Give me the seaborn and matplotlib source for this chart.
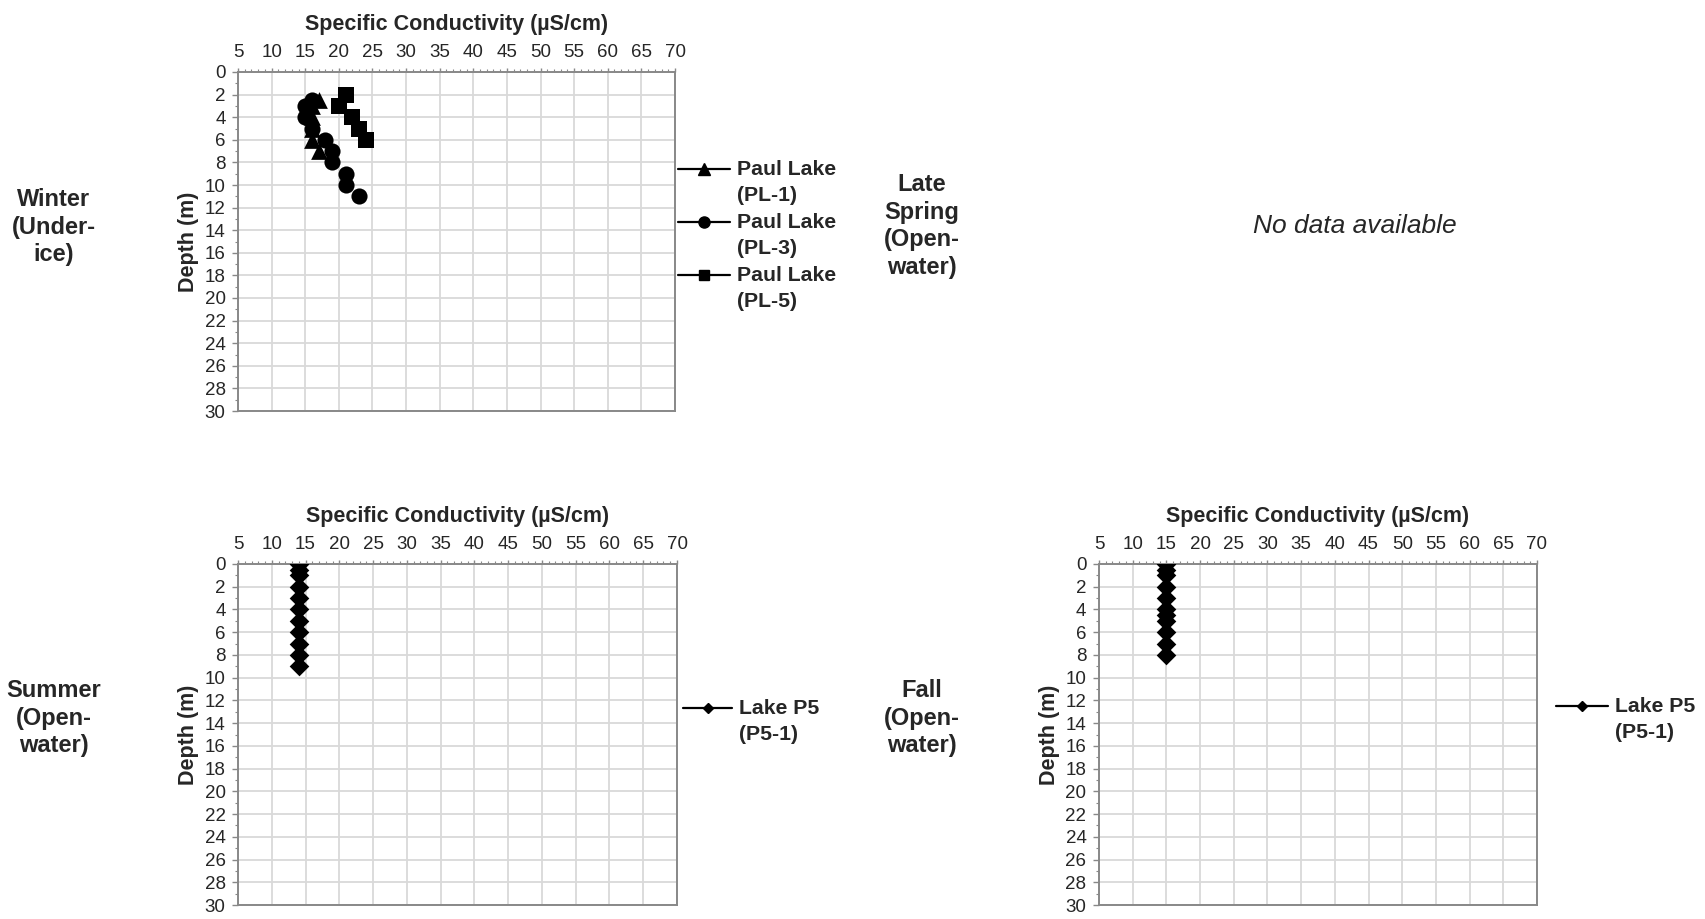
import matplotlib
matplotlib.use("Agg")
import matplotlib.pyplot as plt
from matplotlib.lines import Line2D
from matplotlib.ticker import MultipleLocator
import seaborn as sns
import pandas as pd

# ---------------- data ----------------
xlabel_text = "Specific Conductivity (µS/cm)"
ylabel_text = "Depth (m)"

pl1_cond = [17, 16, 16, 16, 16, 17]
pl1_depth = [2.5, 3, 4, 5, 6, 7]
pl3_cond = [16, 15, 15, 16, 18, 19, 19, 21, 21, 23]
pl3_depth = [2.5, 3, 4, 5, 6, 7, 8, 9, 10, 11]
pl5_cond = [21, 20, 22, 23, 24]
pl5_depth = [2, 3, 4, 5, 6]

summer_cond = [14, 14, 14, 14, 14, 14, 14, 14, 14, 14, 14]
summer_depth = [0, 0.5, 1, 2, 3, 4, 5, 6, 7, 8, 9]
fall_cond = [15, 15, 15, 15, 15, 15, 15, 15, 15, 15, 15]
fall_depth = [0, 0.5, 1, 2, 3, 4, 4.5, 5, 6, 7, 8]

winter_labels = ["Paul Lake\n(PL-1)", "Paul Lake\n(PL-3)", "Paul Lake\n(PL-5)"]
p5_label = "Lake P5\n(P5-1)"
season_winter = "Winter\n(Under-\nice)"
season_spring = "Late\nSpring\n(Open-\nwater)"
season_summer = "Summer\n(Open-\nwater)"
season_fall = "Fall\n(Open-\nwater)"
no_data_text = "No data available"

# ---------------- style ----------------
sns.set_style("white")
plt.rcParams["font.family"] = ["Liberation Sans", "DejaVu Sans"]

W, H = 1705, 919
fig = plt.figure(figsize=(W / 100, H / 100), dpi=100)

GRID = "#d9d9d9"
SPINE = "#888888"
TICK_FS = 13.5
TITLE_FS = 15.5
LEG_FS = 15.3
SEASON_FS = 17


def px_axes(left, top, right, bottom):
    return fig.add_axes([left / W, 1 - bottom / H, (right - left) / W, (bottom - top) / H])


def style_axes(ax):
    ax.set_xlim(5, 70)
    ax.set_ylim(30, 0)
    ax.xaxis.tick_top()
    ax.xaxis.set_label_position("top")
    ax.xaxis.set_major_locator(MultipleLocator(5))
    ax.xaxis.set_minor_locator(MultipleLocator(1))
    ax.yaxis.set_major_locator(MultipleLocator(2))
    ax.yaxis.set_minor_locator(MultipleLocator(1))
    ax.grid(True, which="major", color=GRID, linewidth=1.3)
    ax.set_axisbelow(True)
    for s in ax.spines.values():
        s.set_visible(True)
        s.set_color(SPINE)
        s.set_linewidth(1.4)
    ax.tick_params(axis="x", which="major", top=True, bottom=False, direction="out",
                   length=3, width=1, color=SPINE, labelsize=TICK_FS, pad=5)
    ax.tick_params(axis="x", which="minor", top=True, bottom=False, direction="out",
                   length=2, width=0.8, color=SPINE)
    ax.tick_params(axis="y", which="major", left=True, direction="out",
                   length=4, width=1, color=SPINE, labelsize=TICK_FS, pad=5)
    ax.tick_params(axis="y", which="minor", left=True, direction="out",
                   length=2.5, width=0.8, color=SPINE)
    ax.set_xlabel(xlabel_text, fontsize=TITLE_FS, fontweight="bold", labelpad=10)
    ax.set_ylabel(ylabel_text, fontsize=TITLE_FS, fontweight="bold", labelpad=4)


def legend_entry(x0, x1, y, marker, ms, text):
    fy = 1 - y / H
    fig.add_artist(Line2D([x0 / W, x1 / W], [fy, fy], color="black", linewidth=1.6,
                          transform=fig.transFigure))
    fig.add_artist(Line2D([(x0 + x1) / 2 / W], [fy], color="black", marker=marker,
                          markersize=ms, linestyle="none", transform=fig.transFigure))
    fig.text((x1 + 7) / W, 1 - (y - 9) / H, text, fontsize=LEG_FS, fontweight="bold",
             ha="left", va="top", linespacing=1.45)


# ---------------- winter ----------------
ax1 = px_axes(238, 72, 675, 411)
df1 = pd.DataFrame({"cond": pl1_cond, "depth": pl1_depth})
df3 = pd.DataFrame({"cond": pl3_cond, "depth": pl3_depth})
df5 = pd.DataFrame({"cond": pl5_cond, "depth": pl5_depth})
sns.scatterplot(data=df1, x="cond", y="depth", marker="^", s=145, color="black",
                linewidth=0, ax=ax1, zorder=3)
sns.scatterplot(data=df3, x="cond", y="depth", marker="o", s=135, color="black",
                linewidth=0, ax=ax1, zorder=3)
sns.scatterplot(data=df5, x="cond", y="depth", marker="s", s=125, color="black",
                linewidth=0, ax=ax1, zorder=3)
style_axes(ax1)

legend_entry(678, 730, 169, "^", 8, winter_labels[0])
legend_entry(678, 730, 222, "o", 8, winter_labels[1])
legend_entry(678, 730, 275, "s", 7.5, winter_labels[2])

# ---------------- summer ----------------
ax2 = px_axes(238, 564, 677, 905)
dfs = pd.DataFrame({"cond": summer_cond, "depth": summer_depth})
sns.scatterplot(data=dfs, x="cond", y="depth", marker="D", s=100, color="black",
                linewidth=0, ax=ax2, zorder=3)
style_axes(ax2)
legend_entry(683, 732, 708, "D", 5.5, p5_label)

# ---------------- fall ----------------
ax3 = px_axes(1099, 564, 1537, 905)
dff = pd.DataFrame({"cond": fall_cond, "depth": fall_depth})
sns.scatterplot(data=dff, x="cond", y="depth", marker="D", s=100, color="black",
                linewidth=0, ax=ax3, zorder=3)
style_axes(ax3)
legend_entry(1556, 1608, 706, "D", 5.5, p5_label)

# ---------------- season labels ----------------
def season(x, y, text):
    fig.text(x / W, 1 - y / H, text, fontsize=SEASON_FS, fontweight="bold",
             ha="center", va="center", linespacing=1.25)

season(54, 227, season_winter)
season(922, 226, season_spring)
season(54, 718, season_summer)
season(922, 718, season_fall)
fig.text(1355 / W, 1 - 226 / H, no_data_text, fontsize=19, fontstyle="italic",
         ha="center", va="center")

fig.savefig("out.png", dpi=100)
